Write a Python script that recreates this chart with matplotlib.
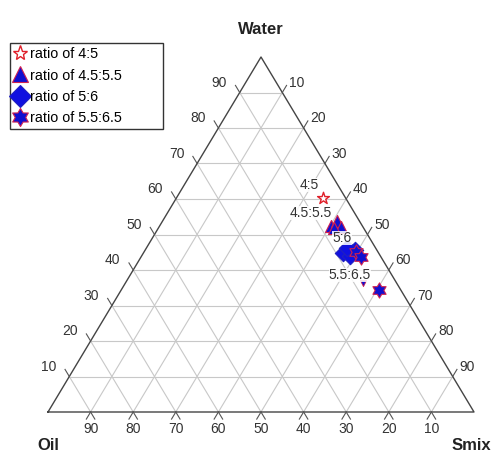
import numpy as np
import matplotlib
matplotlib.use('Agg')
import matplotlib.pyplot as plt
from matplotlib.path import Path
from matplotlib.lines import Line2D

plt.rcParams['font.family'] = ['Liberation Sans', 'DejaVu Sans']

# compositions in % (water, oil, smix)
w_45 = [60.3]
o_45 = [5.3]
s_45 = [34.4]

w_4555 = [52.4, 53.8, 52.1, 51.8, 36.3]
o_4555 = [7.4, 5.3, 5.2, 7.0, 7.9]
s_4555 = [40.2, 40.9, 42.7, 41.2, 55.8]

w_56 = [44.8, 43.9, 45.6, 46.2]
o_56 = [8.4, 7.2, 5.1, 6.7]
s_56 = [46.8, 48.9, 49.3, 47.1]

w_5565 = [45.1, 43.7, 34.4]
o_5565 = [5.1, 4.7, 5.1]
s_5565 = [49.8, 51.6, 60.5]

ratio_labels = ['4:5', '4.5:5.5', '5:6', '5.5:6.5']
label_w = [63.9, 56.1, 49.0, 38.6]
label_s = [29.3, 33.7, 44.5, 51.6]
ticks = [10, 20, 30, 40, 50, 60, 70, 80, 90]


def tern(w, s):
    w = np.asarray(w, float)
    s = np.asarray(s, float)
    return s + w / 2, w


fig = plt.figure(figsize=(4.98, 4.55), dpi=100)
ax = fig.add_axes([48/498, (455-412)/455, 426/498, 355/455])
ax.set_xlim(0, 100)
ax.set_ylim(0, 100)
ax.axis('off')

grid_c = '#c8c8c8'
tick_c = '#555555'
for t in ticks:
    # constant water
    x, y = tern([t, t], [0, 100 - t])
    ax.plot(x, y, color=grid_c, lw=0.8, zorder=1)
    # constant smix
    x, y = tern([0, 100 - t], [t, t])
    ax.plot(x, y, color=grid_c, lw=0.8, zorder=1)
    # constant oil
    x, y = tern([0, 100 - t], [100 - t, 0])
    ax.plot(x, y, color=grid_c, lw=0.8, zorder=1)

# outline
x, y = tern([0, 0, 100, 0], [0, 100, 0, 0])
ax.plot(x, y, color='#444444', lw=1.0, zorder=2, clip_on=False)

tc = '#333333'
fs = 10
e = 2.0
for t in ticks:
    # bottom: oil %
    x, y = tern([-e, -e, 0], [100 - t + e, 100 - t, 100 - t])
    ax.plot([x[0], x[2]], [y[0], y[2]], color=tick_c, lw=0.8, clip_on=False)
    ax.plot([x[1], x[2]], [y[1], y[2]], color=tick_c, lw=0.8, clip_on=False)
    ax.text(x[2], -4.8, str(t), ha='center', va='center', fontsize=fs, color=tc)
    # left: water %
    x, y = tern([t + e, t], [-e, 0])
    ax.plot(x, y, color=tick_c, lw=0.8, clip_on=False)
    ax.text(x[1] - 3.0, y[1] + 2.8, str(t), ha='right', va='center', fontsize=fs, color=tc)
    # right: smix %
    x, y = tern([100 - t + e, 100 - t], [t, t])
    ax.plot(x, y, color=tick_c, lw=0.8, clip_on=False)
    ax.text(x[1] + 1.6, y[1] + 2.8, str(t), ha='left', va='center', fontsize=fs, color=tc)

fig.text(261/498, 1 - 29/455, 'Water', ha='center', va='center', fontsize=12, fontweight='bold', color='#222222')
fig.text(48/498, 1 - 445/455, 'Oil', ha='center', va='center', fontsize=12, fontweight='bold', color='#222222')
fig.text(471/498, 1 - 445/455, 'Smix', ha='center', va='center', fontsize=12, fontweight='bold', color='#222222')

hexagram = Path.unit_regular_star(6, 0.58)

x, y = tern(w_45, s_45)
ax.scatter(x, y, marker='*', s=80, facecolor='white', edgecolor='#e0202a', linewidths=1.0, zorder=5)
x, y = tern(w_4555, s_4555)
ax.scatter(x[:4], y[:4], marker='^', s=75, facecolor='#1010d0', edgecolor='#d02050', linewidths=0.8, zorder=5)
ax.scatter(x[4:], y[4:], marker='v', s=20, facecolor='#1010d0', edgecolor='#d02050', linewidths=0.6, zorder=5)
x, y = tern(w_56, s_56)
ax.scatter(x, y, marker='D', s=70, facecolor='#1010e0', edgecolor='#2020c0', linewidths=0.8, zorder=5)
x, y = tern(w_5565, s_5565)
ax.scatter(x, y, marker=hexagram, s=120, facecolor='#1010d0', edgecolor='#d02050', linewidths=0.8, zorder=6)

for lab, lw_, ls_ in zip(ratio_labels, label_w, label_s):
    x, y = tern([lw_], [ls_])
    ax.text(x[0], y[0], lab, ha='center', va='center', fontsize=fs, color=tc, zorder=7,
            bbox=dict(facecolor='white', edgecolor='none', pad=0.2, alpha=0.85))

handles = [
    Line2D([], [], ls='none', marker='*', ms=11, mfc='white', mec='#e0202a', mew=1.0),
    Line2D([], [], ls='none', marker='^', ms=11, mfc='#1010d0', mec='#d02050', mew=0.8),
    Line2D([], [], ls='none', marker='D', ms=11, mfc='#1010e0', mec='#2020c0', mew=0.8),
    Line2D([], [], ls='none', marker=hexagram, ms=13, mfc='#1010d0', mec='#d02050', mew=0.8),
]
leg = fig.legend(handles, ['ratio of 4:5', 'ratio of 4.5:5.5', 'ratio of 5:6', 'ratio of 5.5:6.5'],
                 loc='upper left', mode='expand',
                 bbox_to_anchor=(10/498, 1 - 128/455, 153/498, 85/455), fontsize=10.4,
                 frameon=True, fancybox=False, handlelength=0.8, handletextpad=0.3,
                 borderpad=0.3, labelspacing=0.5, borderaxespad=0)
leg.get_frame().set_edgecolor('black')
leg.get_frame().set_linewidth(1.0)

fig.savefig('out.png', dpi=100)
